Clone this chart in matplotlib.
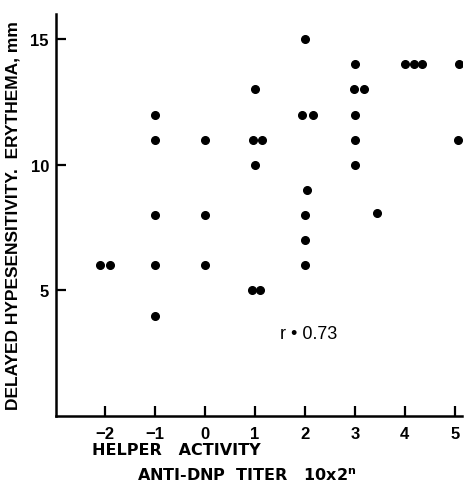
import matplotlib as mpl
mpl.use('Agg')
import matplotlib.pyplot as plt

# helper activity (n) and erythema (mm)
helper = [2, 3, 4.0, 4.18, 4.35, 5.08, 1, 2.98, 3.18, -1, 1.94, 2.16, 3,
          -1, 0, 0.96, 1.14, 3, 5.06, 1, 3, 2.04,
          -1, 0, 2, 3.45, 2, -2.1, -1.9, -1, 0, 2, 0.95, 1.1, -1]
erythema = [15, 14, 14, 14, 14, 14, 13, 13, 13, 12, 12, 12, 12,
            11, 11, 11, 11, 11, 11, 10, 10, 9,
            8, 8, 8, 8.1, 7, 6, 6, 6, 6, 6, 5, 5, 4]

xticks = [-2, -1, 0, 1, 2, 3, 4, 5]
xticklabels = ['\u22122', '\u22121', '0', '1', '2', '3', '4', '5']
yticks = [5, 10, 15]

plt.rcParams['font.family'] = ['Liberation Sans', 'DejaVu Sans']
plt.rcParams['font.weight'] = 'bold'

fig = plt.figure(figsize=(4.66, 4.85), dpi=100)
ax = fig.add_axes([0.120, 0.140, 0.872, 0.829])

ax.plot(helper, erythema, 'o', color='black', ms=5.5, mec='black')

ax.set_xlim(-2.98, 5.15)
ax.set_ylim(0, 16)
ax.set_xticks(xticks)
ax.set_xticklabels(xticklabels)
ax.set_yticks(yticks)
ax.tick_params(direction='in', length=7, width=1.6, labelsize=12)
ax.tick_params(axis='x', pad=7)
ax.tick_params(axis='y', pad=5)
for s in ['top', 'right']:
    ax.spines[s].set_visible(False)
for s in ['left', 'bottom']:
    ax.spines[s].set_linewidth(1.8)

ax.text(1.5, 3.1, 'r \u2022 0.73', fontsize=13, fontweight='normal')

fig.text(0.378, 0.072, 'HELPER   ACTIVITY', fontsize=11.5, ha='center',
         va='center', family='DejaVu Sans')
fig.text(0.53, 0.019, 'ANTI-DNP  TITER   10x2$^{\\mathbf{n}}$', fontsize=11.5,
         ha='center', va='center', family='DejaVu Sans')
fig.text(0.027, 0.555, 'DELAYED HYPESENSITIVITY.  ERYTHEMA, mm', fontsize=12.5,
         rotation=90, ha='center', va='center')

fig.savefig('out.png', dpi=100)
